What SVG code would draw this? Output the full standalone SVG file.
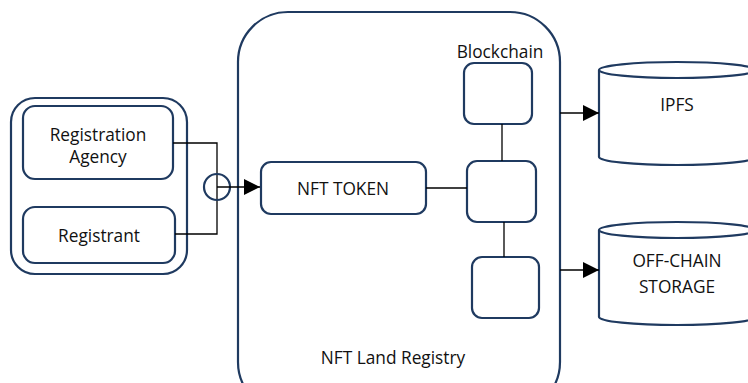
<svg xmlns="http://www.w3.org/2000/svg" width="748" height="383" viewBox="0 0 748 383">
<defs>
<style>
.n{fill:#fff;stroke:#1f3a60;stroke-width:2.2}
.c{fill:none;stroke:#000;stroke-width:1.3}
.t{font-family:"Open Sans","DejaVu Sans",sans-serif;font-size:17.3px;fill:#111;text-anchor:middle}
</style>
<marker id="ah" viewBox="0 0 10 10" refX="10" refY="5" markerWidth="16" markerHeight="16" markerUnits="userSpaceOnUse" orient="auto">
<path d="M0,0 L10,5 L0,10 z" fill="#000"/>
</marker>
</defs>
<rect width="748" height="383" fill="#fff"/>
<g id="registry">
<rect class="n" x="238" y="12" width="322" height="400" rx="50"/>
<text class="t" x="393" y="364">NFT Land Registry</text>
</g>
<g id="parties">
<rect class="n" x="11" y="98" width="176" height="176" rx="24"/>
</g>
<g id="agency">
<rect class="n" x="23" y="106" width="150" height="73" rx="12"/>
<text class="t" x="98" y="141">Registration</text>
<text class="t" x="98" y="163">Agency</text>
</g>
<g id="registrant">
<rect class="n" x="23" y="207" width="152" height="56" rx="12"/>
<text class="t" x="99" y="242">Registrant</text>
</g>
<g id="nft-token">
<rect class="n" x="261" y="162" width="165" height="52" rx="10"/>
<text class="t" x="343" y="195">NFT TOKEN</text>
</g>
<g id="blockchain">
<text class="t" x="500" y="58">Blockchain</text>
</g>
<g id="block1"><rect class="n" x="464" y="63" width="68" height="61" rx="10"/></g>
<g id="block2"><rect class="n" x="467" y="161" width="69" height="61" rx="10"/></g>
<g id="block3"><rect class="n" x="472" y="257" width="67" height="61" rx="10"/></g>
<g id="ipfs">
<path class="n" d="M599,70 V157 A78,8 0 0 0 755,157 V70"/>
<ellipse class="n" cx="677" cy="70" rx="78" ry="8"/>
<text class="t" x="677" y="111">IPFS</text>
</g>
<g id="offchain">
<path class="n" d="M599,230 V317 A78,8 0 0 0 755,317 V230"/>
<ellipse class="n" cx="677" cy="230" rx="78" ry="8"/>
<text class="t" x="677" y="267">OFF-CHAIN</text>
<text class="t" x="677" y="293">STORAGE</text>
</g>
<g id="connectors">
<path class="c" d="M173,143 H217 V234 H175"/>
<circle cx="217" cy="187" r="13" fill="none" stroke="#1f3a60" stroke-width="2.2"/>
<path class="c" d="M217,187 H260" marker-end="url(#ah)" stroke-width="2"/>
<path class="c" d="M426,188 H467"/>
<path class="c" d="M502,124 V161"/>
<path class="c" d="M504,222 V257"/>
<path class="c" d="M560,113 H599" marker-end="url(#ah)"/>
<path class="c" d="M560,270 H599" marker-end="url(#ah)"/>
</g>
</svg>
